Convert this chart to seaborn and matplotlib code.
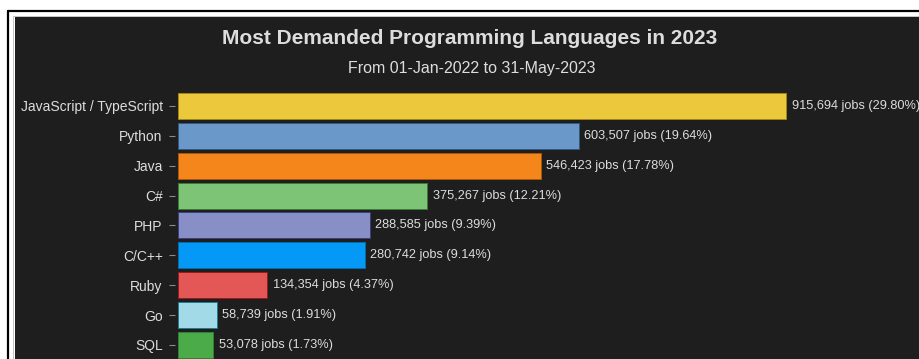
import matplotlib
matplotlib.use("Agg")
import matplotlib.pyplot as plt
from matplotlib.lines import Line2D
from matplotlib.patches import Rectangle
import seaborn as sns
import pandas as pd

languages = ["JavaScript / TypeScript", "Python", "Java", "C#", "PHP",
             "C/C++", "Ruby", "Go", "SQL"]
jobs = [915694, 603507, 546423, 375267, 288585, 280742, 134354, 58739, 53078]
shares = [29.80, 19.64, 17.78, 12.21, 9.39, 9.14, 4.37, 1.91, 1.73]
colors = ["#ECC93C", "#6A98C8", "#F4861C", "#7DC477", "#888EC6",
          "#0499F7", "#E45757", "#A2DAE8", "#4CAB49"]

title = "Most Demanded Programming Languages in 2023"
subtitle = "From 01-Jan-2022 to 31-May-2023"

BG = "#1e1e1e"
TXT = "#dddddd"

sns.set_style("dark", {"axes.facecolor": BG, "figure.facecolor": "white"})
plt.rcParams["font.family"] = ["Liberation Sans", "DejaVu Sans"]

W, H = 919, 359
fig = plt.figure(figsize=(W / 100, H / 100), dpi=100)

def fx(px):
    return px / W

def fy(py):
    return 1 - py / H

# page frame: black rule, thin grey rule, dark panel
fig.patches.append(Rectangle((fx(15), 0), 1 - fx(15), fy(17), transform=fig.transFigure,
                             facecolor=BG, edgecolor="none", zorder=-2))
fig.lines.append(Line2D([fx(8), 1], [fy(11), fy(11)], transform=fig.transFigure,
                        color="black", lw=1.6, zorder=-1))
fig.lines.append(Line2D([fx(8), fx(8)], [0, fy(11)], transform=fig.transFigure,
                        color="black", lw=1.6, zorder=-1))
fig.lines.append(Line2D([fx(13), 1], [fy(15.5), fy(15.5)], transform=fig.transFigure,
                        color="#bbbbbb", lw=0.6, zorder=-1))
fig.lines.append(Line2D([fx(13), fx(13)], [0, fy(15.5)], transform=fig.transFigure,
                        color="#bbbbbb", lw=0.6, zorder=-1))

ax = fig.add_axes([fx(178), 0, 1 - fx(178), fy(91)])
ax.set_facecolor(BG)
ax.set_zorder(1)

df = pd.DataFrame({"language": languages, "jobs": jobs})
sns.barplot(data=df, x="jobs", y="language", hue="language", palette=colors,
            orient="h", dodge=False, legend=False, width=0.87, ax=ax,
            saturation=1)

for bar, c in zip(ax.patches, colors):
    bar.set_edgecolor(sns.utils.set_hls_values(c, l=0.35))
    bar.set_linewidth(0.7)

ax.set_xlim(0, 1115100)
ax.set_ylim(8.469, -0.5)

for i, (v, s) in enumerate(zip(jobs, shares)):
    ax.text(v + 8000, i, f"{v:,} jobs ({s:.2f}%)", color=TXT, fontsize=9.2,
            va="center", ha="left", clip_on=False)

ax.set_xlabel("")
ax.set_ylabel("")
ax.set_xticks([])
ax.grid(False)
for sp in ax.spines.values():
    sp.set_visible(False)
ax.spines["left"].set_position(("outward", 2))
ax.tick_params(axis="y", left=True, length=4, width=0.8, color="#8a8a8a",
               labelcolor=TXT, labelsize=10, pad=5)

fig.text(fx(470), fy(38), title, ha="center", va="center", fontsize=15,
         fontweight="bold", color=TXT)
fig.text(fx(472), fy(68), subtitle, ha="center", va="center", fontsize=11.5,
         color=TXT)

fig.savefig("out.png", dpi=100, facecolor="white")
